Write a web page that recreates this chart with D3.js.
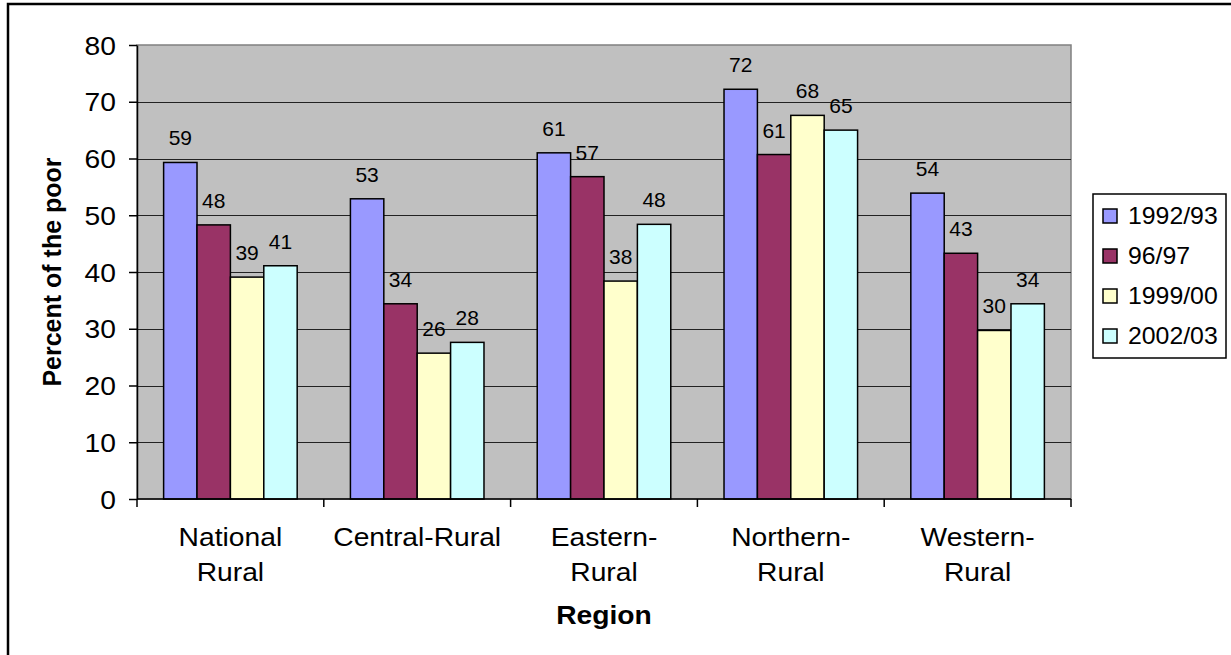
<!DOCTYPE html>
<html>
<head>
<meta charset="utf-8">
<script src="https://cdn.jsdelivr.net/npm/d3@7"></script>
<style>
    body { margin: 0; background: #fff; }
    text { font-family: "Liberation Sans", Arial, sans-serif; fill: #000; }
</style>
</head>
<body>
<div class="chart"></div>
<script>
var categories = [["National", "Rural"], ["Central-Rural"], ["Eastern-", "Rural"], ["Northern-", "Rural"], ["Western-", "Rural"]];
var seriesNames = ["1992/93", "96/97", "1999/00", "2002/03"];
var seriesColors = ["#9999FF", "#993366", "#FFFFCC", "#CCFFFF"];
var v1992 = [59.3, 52.9, 61.0, 72.2, 53.9];
var v1996 = [48.3, 34.4, 56.8, 60.7, 43.3];
var v1999 = [39.1, 25.7, 38.4, 67.6, 29.7];
var v2002 = [41.1, 27.6, 48.4, 65.0, 34.4];
var yTicks = [0, 10, 20, 30, 40, 50, 60, 70, 80];

var seriesValues = [v1992, v1996, v1999, v2002];
var catKeys = categories.map(function (c) { return c.join(" "); });

var W = 1231, H = 655;
var plot = {left: 137, top: 45, right: 1071, bottom: 499};
var sx = 1.13; // the picture is a bit stretched sideways, text too

var svg = d3.select(".chart").append("svg")
        .attr("width", W)
        .attr("height", H);

// outer frame
svg.append("rect")
        .attr("x", 8).attr("y", 4)
        .attr("width", W + 20).attr("height", H + 20)
        .attr("fill", "#fff")
        .attr("stroke", "#000")
        .attr("stroke-width", 2.5);

var x0 = d3.scaleBand()
        .domain(catKeys)
        .range([plot.left, plot.right]);

var gap = x0.bandwidth() * 0.1425;
var x1 = d3.scaleBand()
        .domain(seriesNames)
        .range([gap, x0.bandwidth() - gap]);

var y = d3.scaleLinear()
        .domain([0, 80])
        .range([plot.bottom, plot.top]);

// plot area
svg.append("rect")
        .attr("x", plot.left).attr("y", plot.top)
        .attr("width", plot.right - plot.left)
        .attr("height", plot.bottom - plot.top)
        .attr("fill", "#C0C0C0")
        .attr("stroke", "#808080")
        .attr("stroke-width", 1.5);

// gridlines
svg.append("g").selectAll("line")
        .data(yTicks.slice(1, -1))
        .enter().append("line")
        .attr("x1", plot.left).attr("x2", plot.right)
        .attr("y1", function (d) { return Math.round(y(d)) + 0.5; })
        .attr("y2", function (d) { return Math.round(y(d)) + 0.5; })
        .attr("stroke", "#222")
        .attr("stroke-width", 1);

// bars
var groups = svg.append("g").selectAll("g")
        .data(catKeys)
        .enter().append("g")
        .attr("transform", function (d) { return "translate(" + x0(d) + ",0)"; });

groups.selectAll("rect")
        .data(function (d, i) {
            return seriesNames.map(function (s, j) { return {series: s, j: j, value: seriesValues[j][i]}; });
        })
        .enter().append("rect")
        .attr("x", function (d) { return x1(d.series); })
        .attr("y", function (d) { return y(d.value); })
        .attr("width", x1.bandwidth())
        .attr("height", function (d) { return y(0) - y(d.value); })
        .attr("fill", function (d) { return seriesColors[d.j]; })
        .attr("stroke", "#000")
        .attr("stroke-width", 1.5);

// data labels
groups.selectAll("text")
        .data(function (d, i) {
            return seriesNames.map(function (s, j) { return {series: s, value: seriesValues[j][i]}; });
        })
        .enter().append("text")
        .attr("x", function (d) { return x1(d.series) + x1.bandwidth() / 2; })
        .attr("y", function (d) { return y(d.value) - 17; })
        .attr("text-anchor", "middle")
        .style("font-size", "21px")
        .text(function (d) { return d3.format(".0f")(d.value); });

// y axis
var y_g = svg.append("g")
        .attr("transform", "translate(" + plot.left + ",0)")
        .call(d3.axisLeft(y).tickValues(yTicks).tickSize(8).tickSizeOuter(0).tickPadding(13));
y_g.selectAll("path, line").attr("stroke", "#000").attr("stroke-width", 1.5);
y_g.selectAll(".tick text")
        .attr("font-family", null)
        .style("font-size", "25px")
        .attr("dy", "0.36em")
        .attr("transform", "scale(" + sx + ",1)")
        .attr("x", -21 / sx);

// x axis line and category ticks
svg.append("line")
        .attr("x1", plot.left).attr("x2", plot.right)
        .attr("y1", plot.bottom).attr("y2", plot.bottom)
        .attr("stroke", "#000").attr("stroke-width", 1.5);
svg.append("g").selectAll("line")
        .data(catKeys.concat([null]))
        .enter().append("line")
        .attr("x1", function (d) { return d === null ? plot.right : x0(d); })
        .attr("x2", function (d) { return d === null ? plot.right : x0(d); })
        .attr("y1", plot.bottom).attr("y2", plot.bottom + 8)
        .attr("stroke", "#000").attr("stroke-width", 1.5);

// category labels
var catLabels = svg.append("g").selectAll("text")
        .data(categories)
        .enter().append("text")
        .attr("text-anchor", "middle")
        .style("font-size", "25px")
        .attr("transform", function (d, i) {
            return "translate(" + (x0(catKeys[i]) + x0.bandwidth() / 2) + ",546) scale(" + sx + ",1)";
        });
catLabels.selectAll("tspan")
        .data(function (d) { return d; })
        .enter().append("tspan")
        .attr("x", 0)
        .attr("y", function (d, i) { return i * 35; })
        .text(function (d) { return d; });

// axis titles
svg.append("text")
        .attr("text-anchor", "middle")
        .attr("transform", "translate(604,624) scale(" + sx + ",1)")
        .style("font-size", "25px")
        .style("font-weight", "bold")
        .text("Region");

svg.append("text")
        .attr("text-anchor", "middle")
        .attr("transform", "translate(61," + ((plot.top + plot.bottom) / 2) + ") rotate(-90)")
        .style("font-size", "25px")
        .style("font-weight", "bold")
        .text("Percent of the poor");

// legend
var legend = svg.append("g").attr("transform", "translate(1093,194)");
legend.append("rect")
        .attr("width", 133).attr("height", 164)
        .attr("fill", "#fff")
        .attr("stroke", "#000")
        .attr("stroke-width", 1.5);
var items = legend.selectAll("g")
        .data(seriesNames)
        .enter().append("g")
        .attr("transform", function (d, i) { return "translate(0," + (22 + i * 40) + ")"; });
items.append("rect")
        .attr("x", 10).attr("y", -7)
        .attr("width", 14).attr("height", 14)
        .attr("fill", function (d, i) { return seriesColors[i]; })
        .attr("stroke", "#000")
        .attr("stroke-width", 1.5);
items.append("text")
        .attr("transform", "translate(35,8) scale(1.08,1)")
        .style("font-size", "23px")
        .text(function (d) { return d; });
</script>
</body>
</html>
